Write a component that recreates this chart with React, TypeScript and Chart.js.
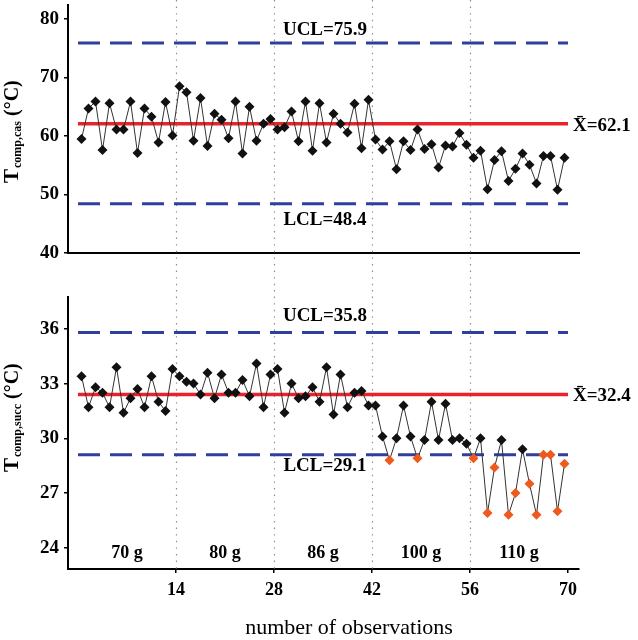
import React, { useEffect, useRef } from "react";
import { Chart, registerables } from "chart.js";

Chart.register(...registerables);

// ---------- data ----------
const OBSERVATIONS = [
  1, 2, 3, 4, 5, 6, 7, 8, 9, 10, 11, 12, 13, 14,
  15, 16, 17, 18, 19, 20, 21, 22, 23, 24, 25, 26, 27, 28,
  29, 30, 31, 32, 33, 34, 35, 36, 37, 38, 39, 40, 41, 42,
  43, 44, 45, 46, 47, 48, 49, 50, 51, 52, 53, 54, 55, 56,
  57, 58, 59, 60, 61, 62, 63, 64, 65, 66, 67, 68, 69, 70,
];

const T_COMP_CAS = [
  59.5, 64.7, 65.9, 57.6, 65.6, 61.1, 61.1, 65.9, 57.1, 64.7, 63.3, 58.9, 65.8, 60.1,
  68.5, 67.5, 59.2, 66.5, 58.3, 63.8, 62.8, 59.6, 65.9, 57.0, 65.0, 59.2, 62.1, 62.9,
  61.1, 61.5, 64.2, 59.1, 65.9, 57.5, 65.6, 58.9, 63.8, 62.1, 60.6, 65.5, 57.9, 66.2,
  59.4, 57.7, 59.1, 54.3, 59.1, 57.6, 61.1, 57.8, 58.6, 54.6, 58.4, 58.2, 60.5, 58.5,
  56.3, 57.5, 50.9, 55.9, 57.4, 52.3, 54.4, 57.0, 55.1, 51.9, 56.6, 56.6, 50.8, 56.3,
];

const T_COMP_SUCC = [
  33.4, 31.7, 32.8, 32.5, 31.7, 33.9, 31.4, 32.2, 32.7, 31.7, 33.4, 32.0, 31.5, 33.8,
  33.4, 33.1, 33.0, 32.4, 33.6, 32.2, 33.5, 32.5, 32.5, 33.2, 32.3, 34.1, 31.7, 33.5,
  33.8, 31.4, 33.0, 32.2, 32.3, 32.8, 32.0, 33.9, 31.3, 33.5, 31.7, 32.5, 32.6, 31.8,
  31.8, 30.1, 28.8, 30.0, 31.8, 30.1, 28.9, 29.9, 32.0, 29.9, 31.9, 29.9, 30.0, 29.7,
  28.9, 30.0, 25.9, 28.4, 29.9, 25.8, 27.0, 29.4, 27.5, 25.8, 29.1, 29.1, 26.0, 28.6,
];

const CAS_LIMITS = [75.9, 62.1, 48.4]; // UCL, mean, LCL
const SUCC_LIMITS = [35.8, 32.4, 29.1];

const SEPARATORS = [14, 28, 42, 56];
const GROUP_LABELS = ["70 g", "80 g", "86 g", "100 g", "110 g"];
const GROUP_CENTERS = [7, 21, 35, 49, 63];
const X_TICKS = [14, 28, 42, 56, 70];
const CAS_Y_TICKS = [40, 50, 60, 70, 80];
const SUCC_Y_TICKS = [24, 27, 30, 33, 36];
const X_TITLE = "number of observations";

// ---------- style ----------
const SERIF = '"Liberation Serif", "Times New Roman", Times, serif';
const BLUE = "#2f3f9e";
const RED = "#e8232a";
const ORANGE = "#f0591c";
const BLACK = "#111111";

type Panel = {
  values: number[];
  limits: number[];
  yTicks: number[];
  yMin: number;
  yMax: number;
  height: number;
  padTop: number;
  plotBottom: number;
  sub: string;
  titleStart: number;
  uclOff: number;
  lclOff: number;
  isBottom: boolean;
};

const X_MIN = -1.43;
const X_MAX = 71.57;

function fmt(v: number) {
  return v.toFixed(1);
}

function makeOverlay(p: Panel) {
  return {
    id: "overlay",
    beforeDatasetsDraw(chart: any) {
      const { ctx, chartArea } = chart;
      const x = chart.scales.x;
      ctx.save();
      ctx.strokeStyle = "#8c8c8c";
      ctx.lineWidth = 1.2;
      ctx.setLineDash([1.4, 5.2]);
      const bottom = p.isBottom ? chartArea.bottom : chart.height;
      SEPARATORS.forEach((s) => {
        const px = Math.round(x.getPixelForValue(s)) + 0.5;
        ctx.beginPath();
        ctx.moveTo(px, 0);
        ctx.lineTo(px, bottom);
        ctx.stroke();
      });
      ctx.restore();
    },
    afterDatasetsDraw(chart: any) {
      const { ctx, chartArea } = chart;
      const x = chart.scales.x;
      const y = chart.scales.y;
      ctx.save();
      ctx.fillStyle = "#000";
      // limit labels
      ctx.font = `bold 19px ${SERIF}`;
      ctx.textAlign = "center";
      ctx.textBaseline = "middle";
      const cx = x.getPixelForValue(35) + 2;
      ctx.fillText("UCL=" + fmt(p.limits[0]), cx, y.getPixelForValue(p.limits[0]) + p.uclOff);
      ctx.fillText("LCL=" + fmt(p.limits[2]), cx, y.getPixelForValue(p.limits[2]) + p.lclOff);
      ctx.textAlign = "left";
      ctx.fillText("X\u0304=" + fmt(p.limits[1]), x.getPixelForValue(70) + 5, y.getPixelForValue(p.limits[1]) + 2);

      if (p.isBottom) {
        ctx.font = `bold 18px ${SERIF}`;
        ctx.textAlign = "center";
        GROUP_LABELS.forEach((g, i) => {
          ctx.fillText(g, x.getPixelForValue(GROUP_CENTERS[i]), chartArea.bottom - 16);
        });
        ctx.font = `22px ${SERIF}`;
        ctx.fillText(X_TITLE, 349, chart.height - 12);
      }

      // y axis title with subscript
      ctx.translate(18, p.titleStart);
      ctx.rotate(-Math.PI / 2);
      ctx.textAlign = "left";
      ctx.textBaseline = "alphabetic";
      ctx.font = `bold 21px ${SERIF}`;
      ctx.fillText("T", 0, 0);
      let w = ctx.measureText("T").width + 1;
      ctx.font = `bold 12px ${SERIF}`;
      ctx.fillText(p.sub, w, 3);
      w += ctx.measureText(p.sub).width;
      ctx.font = `bold 20px ${SERIF}`;
      ctx.fillText(" (°C)", w, 0);
      ctx.restore();
    },
  };
}

function makeConfig(p: Panel): any {
  const points = p.values.map((v, i) => ({ x: OBSERVATIONS[i] - 0.5, y: v }));
  const colors = p.values.map((v) => (p.isBottom && v <= p.limits[2] ? ORANGE : BLACK));
  const limitLine = (val: number, color: string, dash: number[], width: number) => ({
    data: [
      { x: 0, y: val },
      { x: 70, y: val },
    ],
    borderColor: color,
    borderDash: dash,
    borderWidth: width,
    pointRadius: 0,
    fill: false,
    order: 2,
  });
  const tickGrid = {
    display: true,
    drawOnChartArea: false,
    drawTicks: true,
    tickLength: 4,
    color: "#000",
    lineWidth: 1.5,
  };
  const noPad = (s: any) => {
    s.paddingTop = 0;
    s.paddingBottom = 0;
    s.paddingLeft = 0;
    s.paddingRight = 0;
  };
  return {
    type: "line",
    data: {
      datasets: [
        {
          data: points,
          borderColor: "#333333",
          borderWidth: 1,
          pointStyle: "rectRot",
          pointRadius: 5,
          pointBackgroundColor: colors,
          pointBorderColor: colors,
          pointBorderWidth: 0,
          tension: 0,
          fill: false,
          order: 1,
        },
        limitLine(p.limits[0], BLUE, [22, 10], 3),
        limitLine(p.limits[1], RED, [], 3.5),
        limitLine(p.limits[2], BLUE, [22, 10], 3),
      ],
    },
    options: {
      responsive: false,
      animation: false,
      events: [],
      layout: { padding: { left: 0, right: 59, top: p.padTop, bottom: 0 } },
      plugins: { legend: { display: false }, tooltip: { enabled: false } },
      scales: {
        x: {
          type: "linear",
          min: X_MIN,
          max: X_MAX,
          afterBuildTicks: (s: any) => {
            s.ticks = X_TICKS.map((v) => ({ value: v }));
          },
          afterFit: (s: any) => {
            s.height = p.height - p.plotBottom;
            noPad(s);
          },
          ticks: {
            display: p.isBottom,
            color: "#000",
            padding: 7,
            maxRotation: 0,
            autoSkip: false,
            font: { family: SERIF, size: 18, weight: "bold" },
            callback: (v: any) => String(v),
          },
          grid: p.isBottom ? tickGrid : { display: false },
          border: { display: true, color: "#000", width: 2 },
        },
        y: {
          type: "linear",
          min: p.yMin,
          max: p.yMax,
          afterBuildTicks: (s: any) => {
            s.ticks = p.yTicks.map((v) => ({ value: v }));
          },
          afterFit: (s: any) => {
            s.width = 68;
            noPad(s);
          },
          ticks: {
            color: "#000",
            padding: 5,
            autoSkip: false,
            font: { family: SERIF, size: 19, weight: "bold" },
            callback: (v: any) => String(v),
          },
          grid: tickGrid,
          border: { display: true, color: "#000", width: 2 },
        },
      },
    },
    plugins: [makeOverlay(p)],
  };
}

const CAS_PANEL: Panel = {
  values: T_COMP_CAS,
  limits: CAS_LIMITS,
  yTicks: CAS_Y_TICKS,
  yMin: 40,
  yMax: 82.4,
  height: 290,
  padTop: 4,
  plotBottom: 253,
  sub: "comp,cas",
  titleStart: 183,
  uclOff: -13,
  lclOff: 16,
  isBottom: false,
};

const SUCC_PANEL: Panel = {
  values: T_COMP_SUCC,
  limits: SUCC_LIMITS,
  yTicks: SUCC_Y_TICKS,
  yMin: 22.83,
  yMax: 37.75,
  height: 350,
  padTop: 7,
  plotBottom: 279,
  sub: "comp,succ",
  titleStart: 182,
  uclOff: -16,
  lclOff: 11,
  isBottom: true,
};

export default function App() {
  const topRef = useRef<HTMLCanvasElement>(null);
  const botRef = useRef<HTMLCanvasElement>(null);
  useEffect(() => {
    const c1 = new Chart(topRef.current as HTMLCanvasElement, makeConfig(CAS_PANEL));
    const c2 = new Chart(botRef.current as HTMLCanvasElement, makeConfig(SUCC_PANEL));
    return () => {
      c1.destroy();
      c2.destroy();
    };
  }, []);
  return (
    <div style={{ position: "absolute", left: 0, top: 0, width: 638, height: 640, background: "#fff" }}>
      <canvas
        ref={topRef}
        width={638}
        height={290}
        style={{ position: "absolute", left: 0, top: 0, width: 638, height: 290 }}
      />
      <canvas
        ref={botRef}
        width={638}
        height={350}
        style={{ position: "absolute", left: 0, top: 290, width: 638, height: 350 }}
      />
    </div>
  );
}
